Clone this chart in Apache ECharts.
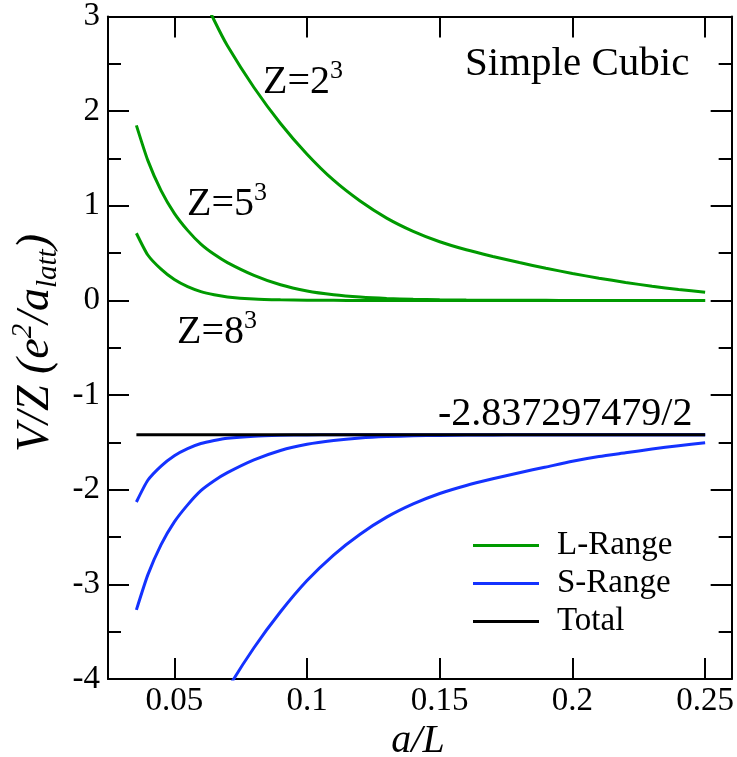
<!DOCTYPE html>
<html><head><meta charset="utf-8">
<script src="https://cdn.jsdelivr.net/npm/echarts@6/dist/echarts.min.js"></script>
<style>html,body{margin:0;padding:0;background:#fff}#c{width:737px;height:757px}</style>
</head><body><div id="c"></div>
<script>
// ---- data ----
const aL = [0.0357, 0.04, 0.045, 0.05, 0.055, 0.06, 0.065, 0.07, 0.08, 0.09, 0.10, 0.11, 0.12, 0.13, 0.14, 0.15, 0.16, 0.17, 0.18, 0.19, 0.20, 0.21, 0.22, 0.23, 0.24, 0.25];
// L-Range (green)
const lrZ2 = [5.06, 4.7, 4.3, 3.93, 3.58, 3.26, 2.96, 2.69, 2.25, 1.87, 1.545, 1.27, 1.05, 0.87, 0.73, 0.62, 0.535, 0.465, 0.40, 0.34, 0.285, 0.235, 0.19, 0.15, 0.115, 0.087];
const lrZ5 = [1.85, 1.48, 1.16, 0.92, 0.74, 0.595, 0.487, 0.40, 0.265, 0.165, 0.10, 0.06, 0.035, 0.02, 0.012, 0.007, 0.004, 0.002, 0.001, 0.001, 0, 0, 0, 0, 0, 0];
const lrZ8 = [0.71, 0.48, 0.33, 0.22, 0.145, 0.093, 0.06, 0.037, 0.015, 0.006, 0.002, 0.001, 0, 0, 0, 0, 0, 0, 0, 0, 0, 0, 0, 0, 0, 0];
// S-Range (blue)
const srZ2 = [-6.48, -6.12, -5.72, -5.35, -5.0, -4.68, -4.38, -4.11, -3.67, -3.29, -2.96, -2.69, -2.47, -2.29, -2.15, -2.04, -1.955, -1.885, -1.82, -1.76, -1.70, -1.65, -1.61, -1.57, -1.535, -1.505];
const srZ5 = [-3.27, -2.90, -2.58, -2.34, -2.16, -2.01, -1.905, -1.82, -1.685, -1.585, -1.52, -1.48, -1.454, -1.439, -1.431, -1.426, -1.423, -1.421, -1.42, -1.42, -1.419, -1.419, -1.419, -1.419, -1.419, -1.419];
const srZ8 = [-2.13, -1.90, -1.75, -1.64, -1.565, -1.512, -1.48, -1.456, -1.434, -1.425, -1.421, -1.42, -1.419, -1.419, -1.419, -1.419, -1.419, -1.419, -1.419, -1.419, -1.419, -1.419, -1.419, -1.419, -1.419, -1.419];
// Total (black)
const totalX = [0.0357, 0.25];
const totalY = [-1.4186, -1.4186];
// axis ticks
const xTicks = [0.05, 0.1, 0.15, 0.2, 0.25];
const legendNames = ['L-Range', 'S-Range', 'Total'];

// ---- chart ----
const FONT = '"Liberation Serif", "Times New Roman", serif';
const GREEN = '#009a00', BLUE = '#1432ff', BLACK = '#000000';
const chart = echarts.init(document.getElementById('c'), null, {renderer: 'canvas'});
function pairs(xs, ys) { return xs.map((x, i) => [x, ys[i]]); }
function line(name, color, xs, ys) {
  return {type: 'line', name, data: pairs(xs, ys), symbol: 'none', showSymbol: false,
    smooth: 0.2, clip: true, silent: true,
    lineStyle: {color, width: 3}, itemStyle: {color}};
}
const tickStyle = {color: BLACK, width: 2};
function xAx(pos, showLabel) {
  return {type: 'value', position: pos, min: 0.025, max: 0.26,
    axisLine: {show: true, onZero: false, lineStyle: tickStyle},
    axisTick: {show: true, inside: true, length: 21, lineStyle: tickStyle, customValues: xTicks},
    axisLabel: {show: showLabel, customValues: xTicks, margin: 6, color: BLACK, fontFamily: FONT, fontSize: 33},
    splitLine: {show: false}};
}
function yAx(pos, showLabel) {
  return {type: 'value', position: pos, min: -4, max: 3, interval: 1,
    axisLine: {show: true, onZero: false, lineStyle: tickStyle},
    axisTick: {show: true, inside: true, length: 21, lineStyle: tickStyle},
    minorTick: {show: true, splitNumber: 2, length: 13, lineStyle: tickStyle},
    axisLabel: {show: showLabel, margin: 8, color: BLACK, fontFamily: FONT, fontSize: 33},
    splitLine: {show: false}, minorSplitLine: {show: false}};
}
function zLabel(base, x, y) {
  return {type: 'text', x, y, z: 100, style: {
    text: '{m|Z=' + base + '}{s|3}', align: 'left', verticalAlign: 'middle', fill: BLACK,
    rich: {m: {fontFamily: FONT, fontSize: 40, lineHeight: 48, verticalAlign: 'middle'},
           s: {fontFamily: FONT, fontSize: 26, lineHeight: 26, verticalAlign: 'top'}}}};
}
const option = {
  animation: false,
  backgroundColor: '#fff',
  grid: {left: 108, right: 4, top: 14, bottom: 78, containLabel: false},
  xAxis: [xAx('bottom', true), xAx('top', false)],
  yAxis: [yAx('left', true), yAx('right', false)],
  legend: {orient: 'vertical', left: 473, top: 529, itemWidth: 66, itemHeight: 3, itemGap: 5,
    icon: 'rect', data: legendNames, selectedMode: false, padding: 0,
    textStyle: {fontFamily: FONT, fontSize: 33, color: BLACK, padding: [0, 0, 0, 13]}},
  series: [
    line(legendNames[0], GREEN, aL, lrZ2),
    line(legendNames[0], GREEN, aL, lrZ5),
    line(legendNames[0], GREEN, aL, lrZ8),
    line(legendNames[1], BLUE, aL, srZ2),
    line(legendNames[1], BLUE, aL, srZ5),
    line(legendNames[1], BLUE, aL, srZ8),
    line(legendNames[2], BLACK, totalX, totalY)
  ],
  graphic: [
    {type: 'text', x: 465, y: 64, z: 100, style: {text: 'Simple Cubic', fontFamily: FONT, fontSize: 41, fill: BLACK, align: 'left', verticalAlign: 'middle'}},
    zLabel('2', 263, 82),
    zLabel('5', 187, 204),
    zLabel('8', 177, 332),
    {type: 'text', x: 438, y: 414, z: 100, style: {text: '-2.837297479/2', fontFamily: FONT, fontSize: 40, fill: BLACK, align: 'left', verticalAlign: 'middle'}},
    {type: 'text', x: 418, y: 741, z: 100, style: {text: 'a/L', fontFamily: FONT, fontStyle: 'italic', fontSize: 40, fill: BLACK, align: 'center', verticalAlign: 'middle'}},
    {type: 'text', x: 36, y: 343, rotation: Math.PI / 2, z: 100, style: {
      text: '{m|V/Z (e}{s|2}{m|/a}{b|latt}{m|)}', align: 'center', verticalAlign: 'middle', fill: BLACK,
      rich: {m: {fontFamily: FONT, fontStyle: 'italic', fontSize: 46, lineHeight: 54, verticalAlign: 'middle'},
             s: {fontFamily: FONT, fontStyle: 'italic', fontSize: 29, lineHeight: 29, verticalAlign: 'top'},
             b: {fontFamily: FONT, fontStyle: 'italic', fontSize: 29, lineHeight: 29, verticalAlign: 'bottom'}}}}
  ]
};
chart.setOption(option);
</script>
</body></html>
